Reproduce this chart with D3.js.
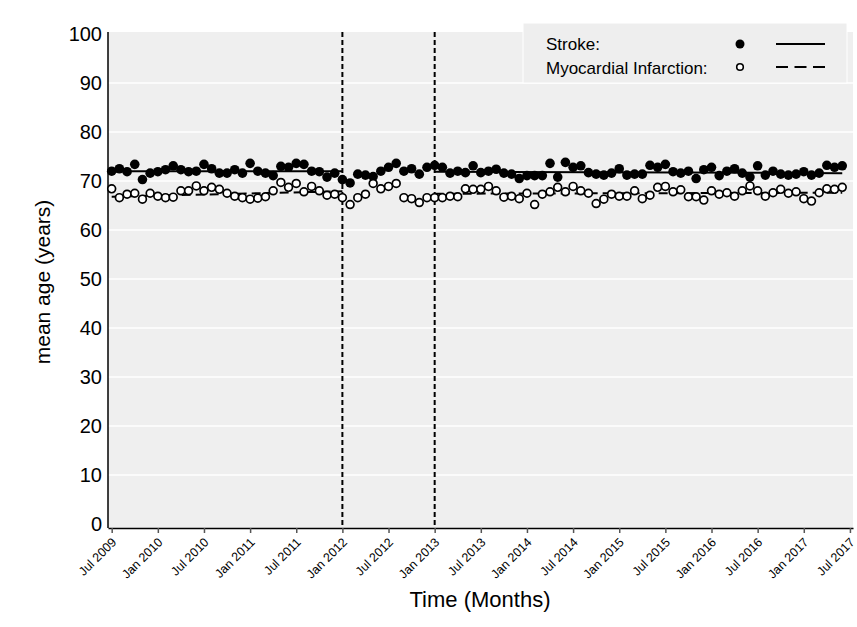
<!DOCTYPE html>
<html><head><meta charset="utf-8">
<script src="https://cdn.jsdelivr.net/npm/d3@7"></script>
<style>body{margin:0;background:#fff}svg{display:block;font-family:"Liberation Sans",Arial,sans-serif}</style>
</head><body><svg id="c" width="857" height="627"></svg>
<script>
// month index 0 = Jul 2009
const strokeAge = [72.0,72.5,71.9,73.4,70.3,71.6,71.9,72.3,73.1,72.3,71.9,72.0,73.4,72.5,71.6,71.6,72.3,71.6,73.6,72.0,
71.6,71.1,73.0,72.8,73.6,73.4,72.0,71.9,70.8,71.6,70.3,69.6,71.4,71.2,70.9,72.0,72.8,73.6,72.0,
72.5,71.4,72.8,73.2,72.8,71.6,72.0,71.7,73.1,71.7,72.0,72.4,71.6,71.4,70.5,71.1,71.1,71.1,73.6,70.8,
73.8,72.8,73.1,71.7,71.4,71.2,71.6,72.5,71.2,71.4,71.4,73.2,72.8,73.4,71.9,71.6,72.0,70.5,72.3,
72.8,71.1,72.0,72.5,71.6,70.8,73.1,71.2,72.0,71.4,71.2,71.4,71.9,71.2,71.6,73.2,72.8,73.1];
const miAge = [68.4,66.6,67.3,67.5,66.3,67.5,66.9,66.6,66.7,68.0,68.0,69.0,68.0,68.7,68.3,67.5,66.9,66.6,66.3,66.5,
66.8,68.0,69.7,68.7,69.5,67.8,68.9,68.0,67.1,67.3,66.6,65.2,66.6,67.3,69.5,68.4,68.9,69.5,66.6,
66.4,65.6,66.6,66.6,66.6,66.9,66.8,68.4,68.3,68.3,68.9,68.0,66.7,66.9,66.4,67.5,65.2,67.3,67.8,68.7,
67.8,68.9,68.0,67.5,65.4,66.3,67.3,66.9,66.9,68.0,66.4,67.1,68.7,68.9,67.8,68.2,66.8,66.8,66.1,
68.0,67.3,67.6,66.9,68.0,69.0,68.0,66.9,67.6,68.3,67.5,67.8,66.4,65.9,67.6,68.4,68.3,68.7];
const months = d3.range(strokeAge.length);
const tickLabels = ["Jul 2009","Jan 2010","Jul 2010","Jan 2011","Jul 2011","Jan 2012","Jul 2012","Jan 2013","Jul 2013","Jan 2014","Jul 2014","Jan 2015","Jul 2015","Jan 2016","Jul 2016","Jan 2017","Jul 2017"];
const tickMonths = tickLabels.map((d,i)=>i*6);
const interventionMonths = [30, 42];
const fitSegStart = [0, 42];
const fitSegEnd = [30, 95];
const strokeFitStart = [72.0, 71.9];
const strokeFitEnd = [72.0, 71.6];
const miFitStart = [66.8, 67.4];
const miFitEnd = [67.9, 67.6];
const yTicks = [0,10,20,30,40,50,60,70,80,90,100];

const svg = d3.select("#c");
const L=108, R=853, T=32, B=528;
const x = d3.scaleLinear().domain([-0.48, 96.4]).range([L, R]);
const y = d3.scaleLinear().domain([-0.8, 100.4]).range([B, T]);

svg.append("rect").attr("x",L).attr("y",T).attr("width",R-L).attr("height",B-T).attr("fill","#efefef");
svg.append("g").selectAll("line").data(yTicks.filter(d=>d>0 && d<100)).join("line")
  .attr("x1",L).attr("x2",R).attr("y1",d=>y(d)).attr("y2",d=>y(d))
  .attr("stroke","#fff").attr("stroke-width",1.5);

const ya = svg.append("g").attr("transform",`translate(${L},0)`)
  .call(d3.axisLeft(y).tickValues(yTicks).tickSize(0).tickPadding(6));
ya.select(".domain").remove();
ya.selectAll("text").attr("font-size",20).attr("fill","#000").attr("font-family","Liberation Sans, Arial");

const xa = svg.append("g").attr("transform",`translate(0,${B})`)
  .call(d3.axisBottom(x).tickValues(tickMonths).tickFormat((d,i)=>tickLabels[i]).tickSize(5).tickSizeOuter(0));
xa.select(".domain").attr("stroke","#000").attr("stroke-width",1.5);
xa.selectAll(".tick line").attr("stroke","#555").attr("stroke-width",1.5);
xa.selectAll("text").attr("font-size",12.5).attr("fill","#000").attr("font-family","Liberation Sans, Arial")
  .attr("text-anchor","end").attr("dy","0").attr("y",0)
  .attr("transform","translate(5,15) rotate(-45)");

svg.append("line").attr("x1",L).attr("x2",L).attr("y1",T).attr("y2",B).attr("stroke","#000").attr("stroke-width",1.5);

svg.append("g").selectAll("line").data(interventionMonths).join("line")
  .attr("x1",d=>x(d)).attr("x2",d=>x(d)).attr("y1",T).attr("y2",B)
  .attr("stroke","#000").attr("stroke-width",2).attr("stroke-dasharray","5,3");

const segs = fitSegStart.map((s,i)=>({s, e:fitSegEnd[i], i}));
svg.append("g").selectAll("line").data(segs).join("line")
  .attr("x1",d=>x(d.s)).attr("x2",d=>x(d.e))
  .attr("y1",d=>y(strokeFitStart[d.i])).attr("y2",d=>y(strokeFitEnd[d.i]))
  .attr("stroke","#000").attr("stroke-width",2);
svg.append("g").selectAll("line").data(segs).join("line")
  .attr("x1",d=>x(d.s)).attr("x2",d=>x(d.e))
  .attr("y1",d=>y(miFitStart[d.i])).attr("y2",d=>y(miFitEnd[d.i]))
  .attr("stroke","#000").attr("stroke-width",2).attr("stroke-dasharray","9,5");

svg.append("g").selectAll("circle").data(months).join("circle")
  .attr("cx",d=>x(d)).attr("cy",d=>y(strokeAge[d])).attr("r",4.8).attr("fill","#000");
svg.append("g").selectAll("circle").data(months).join("circle")
  .attr("cx",d=>x(d)).attr("cy",d=>y(miAge[d])).attr("r",3.9)
  .attr("fill","#fff").attr("stroke","#000").attr("stroke-width",1.7);

const lg = svg.append("g");
lg.append("rect").attr("x",523).attr("y",23).attr("width",324).attr("height",60).attr("fill","#eeeeee").attr("stroke","#fff");
lg.append("text").attr("x",546).attr("y",50).attr("font-size",17).text("Stroke:");
lg.append("text").attr("x",546).attr("y",74).attr("font-size",17).text("Myocardial Infarction:");
lg.append("circle").attr("cx",740).attr("cy",44).attr("r",4.5).attr("fill","#000");
lg.append("circle").attr("cx",740).attr("cy",67).attr("r",3.3).attr("fill","#fff").attr("stroke","#000").attr("stroke-width",1.6);
lg.append("line").attr("x1",776).attr("x2",825).attr("y1",44).attr("y2",44).attr("stroke","#000").attr("stroke-width",2);
lg.append("line").attr("x1",776).attr("x2",825).attr("y1",67).attr("y2",67).attr("stroke","#000").attr("stroke-width",2).attr("stroke-dasharray","12,6.5");

svg.append("text").attr("x",480).attr("y",607).attr("text-anchor","middle").attr("font-size",22).text("Time (Months)");
svg.append("text").attr("transform","translate(50,282) rotate(-90)").attr("text-anchor","middle").attr("font-size",21).text("mean age (years)");
</script></body></html>
